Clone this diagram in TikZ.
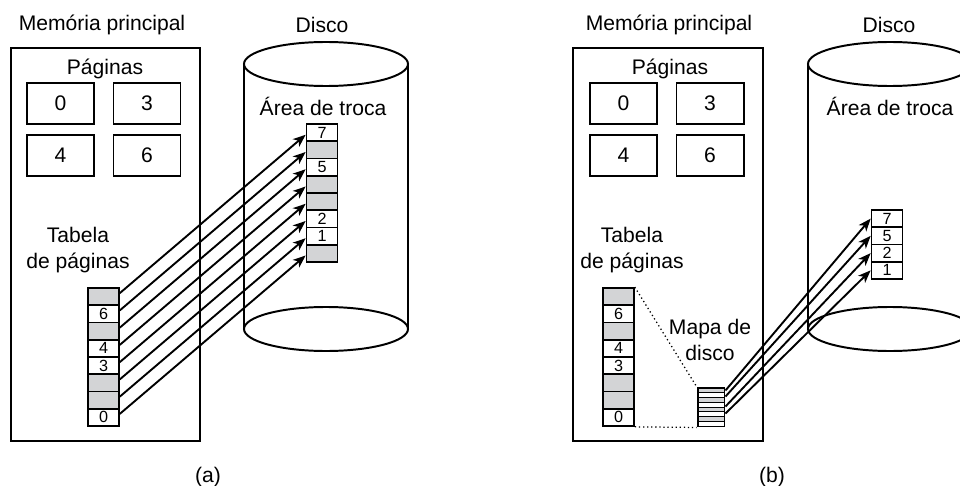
\documentclass[tikz,border=0pt]{standalone}
\usepackage{fontspec}
\setmainfont{Liberation Sans}
\usepackage{tikz}
\usetikzlibrary{arrows.meta, positioning, calc, fit}
\definecolor{cinza}{RGB}{211,212,214}

\begin{document}
\begin{tikzpicture}[
        x=0.025cm, y=-0.025cm,
        every node/.style={font=\fontsize{15}{18.5}\selectfont},
        mem/.style={rectangle, draw, line width=1.4pt, minimum width=4.725cm, minimum height=9.825cm},
        pag/.style={rectangle, draw, line width=1.4pt, minimum width=1.675cm, minimum height=1.025cm},
        cel/.style={rectangle, draw, line width=1.2pt, minimum width=0.775cm, minimum height=0.431cm, inner sep=0pt, font=\fontsize{11.5}{11.5}\selectfont},
        faixa/.style={rectangle, draw, line width=0.7pt, minimum width=0.65cm, minimum height=0.11875cm, inner sep=0pt},
        arrow/.style={-{Stealth[length=9pt, width=7pt, inset=2.5pt]}, line width=1.35pt},
        disco/.style={line width=1.4pt}
    ]
        \useasboundingbox (0,0) rectangle (960,486);
        \clip (0,0) rectangle (960,486);

        \node (tmemA) at (102,25) {Memória principal};
        \node[mem] (memA) at (105.5,244.5) {};
        \node (pagsA) at (105,69) {Páginas};
        \node[pag] (pA0) at (60.5,103.5) {0};
        \node[pag] (pA3) at (147,103.5) {3};
        \node[pag] (pA4) at (60.5,155.5) {4};
        \node[pag] (pA6) at (147,155.5) {6};
        \node[align=center] (ttabA) at (78,250) {Tabela\\de páginas};

        \draw[disco] (244,64) -- (244,329) (408,64) -- (408,329);
        \draw[disco] (326,64) ellipse [x radius=2.05cm, y radius=0.55cm];
        \draw[disco] (326,329) ellipse [x radius=2.05cm, y radius=0.55cm];
        \node (discoA) at (322,25) {Disco};
        \node (trocaA) at (323,106) {Área de troca};

        \foreach \v/\c [count=\i] in {{}/cinza, 6/white, {}/cinza, 4/white, 3/white, {}/cinza, {}/cinza, 0/white}
            \node[cel, fill=\c] (tA\i) at (103.5, 279.375+17.25*\i) {\v};
        \foreach \v/\c [count=\i] in {7/white, {}/cinza, 5/white, {}/cinza, {}/cinza, 2/white, 1/white, {}/cinza}
            \node[cel, fill=\c] (sA\i) at (322, 115.375+17.25*\i) {\v};
        \foreach \i in {1,...,8}
            \draw[arrow] ([yshift=2.5pt]tA\i.east) -- ([yshift=-1.5pt]sA\i.west);

        \node (legA) at (208,477) {(a)};

        \node (tmemB) at (669,25) {Memória principal};
        \node[mem] (memB) at (668,244.5) {};
        \node (pagsB) at (670,69) {Páginas};
        \node[pag] (pB0) at (623.5,103.5) {0};
        \node[pag] (pB3) at (710,103.5) {3};
        \node[pag] (pB4) at (623.5,155.5) {4};
        \node[pag] (pB6) at (710,155.5) {6};
        \node[align=center] (ttabB) at (632,250) {Tabela\\de páginas};

        \draw[disco] (808,64) -- (808,329) (972,64) -- (972,329);
        \draw[disco] (890,64) ellipse [x radius=2.05cm, y radius=0.55cm];
        \draw[disco] (890,329) ellipse [x radius=2.05cm, y radius=0.55cm];
        \node (discoB) at (889,25) {Disco};
        \node (trocaB) at (890,106) {Área de troca};

        \foreach \v/\c [count=\i] in {{}/cinza, 6/white, {}/cinza, 4/white, 3/white, {}/cinza, {}/cinza, 0/white}
            \node[cel, fill=\c] (tB\i) at (618.5, 279.375+17.25*\i) {\v};
        \foreach \v [count=\i] in {7,5,2,1}
            \node[cel, fill=white] (sB\i) at (887, 201.375+17.25*\i) {\v};

        \foreach \c [count=\i] in {cinza, white, cinza, white, cinza, white, cinza, white}
            \node[faixa, fill=\c] (m\i) at (711, 385.625+4.75*\i) {};
        \node[draw, line width=1.4pt, inner sep=0pt, fit=(m1)(m8)] (mapa) {};
        \node[align=center] (tmapa) at (710,340) {Mapa de\\disco};
        \draw[dotted, line width=0.9pt] (tB1.north east) -- (mapa.north west);
        \draw[dotted, line width=0.9pt] (tB8.south east) -- (mapa.south west);
        \foreach \d/\i in {2.8/1, 7.1/2, 14.2/3, 19.2/4}
            \draw[arrow] ([yshift=-\d pt]mapa.north east) -- (sB\i.west);

        \node (legB) at (772,477) {(b)};
    \end{tikzpicture}
\end{document}
